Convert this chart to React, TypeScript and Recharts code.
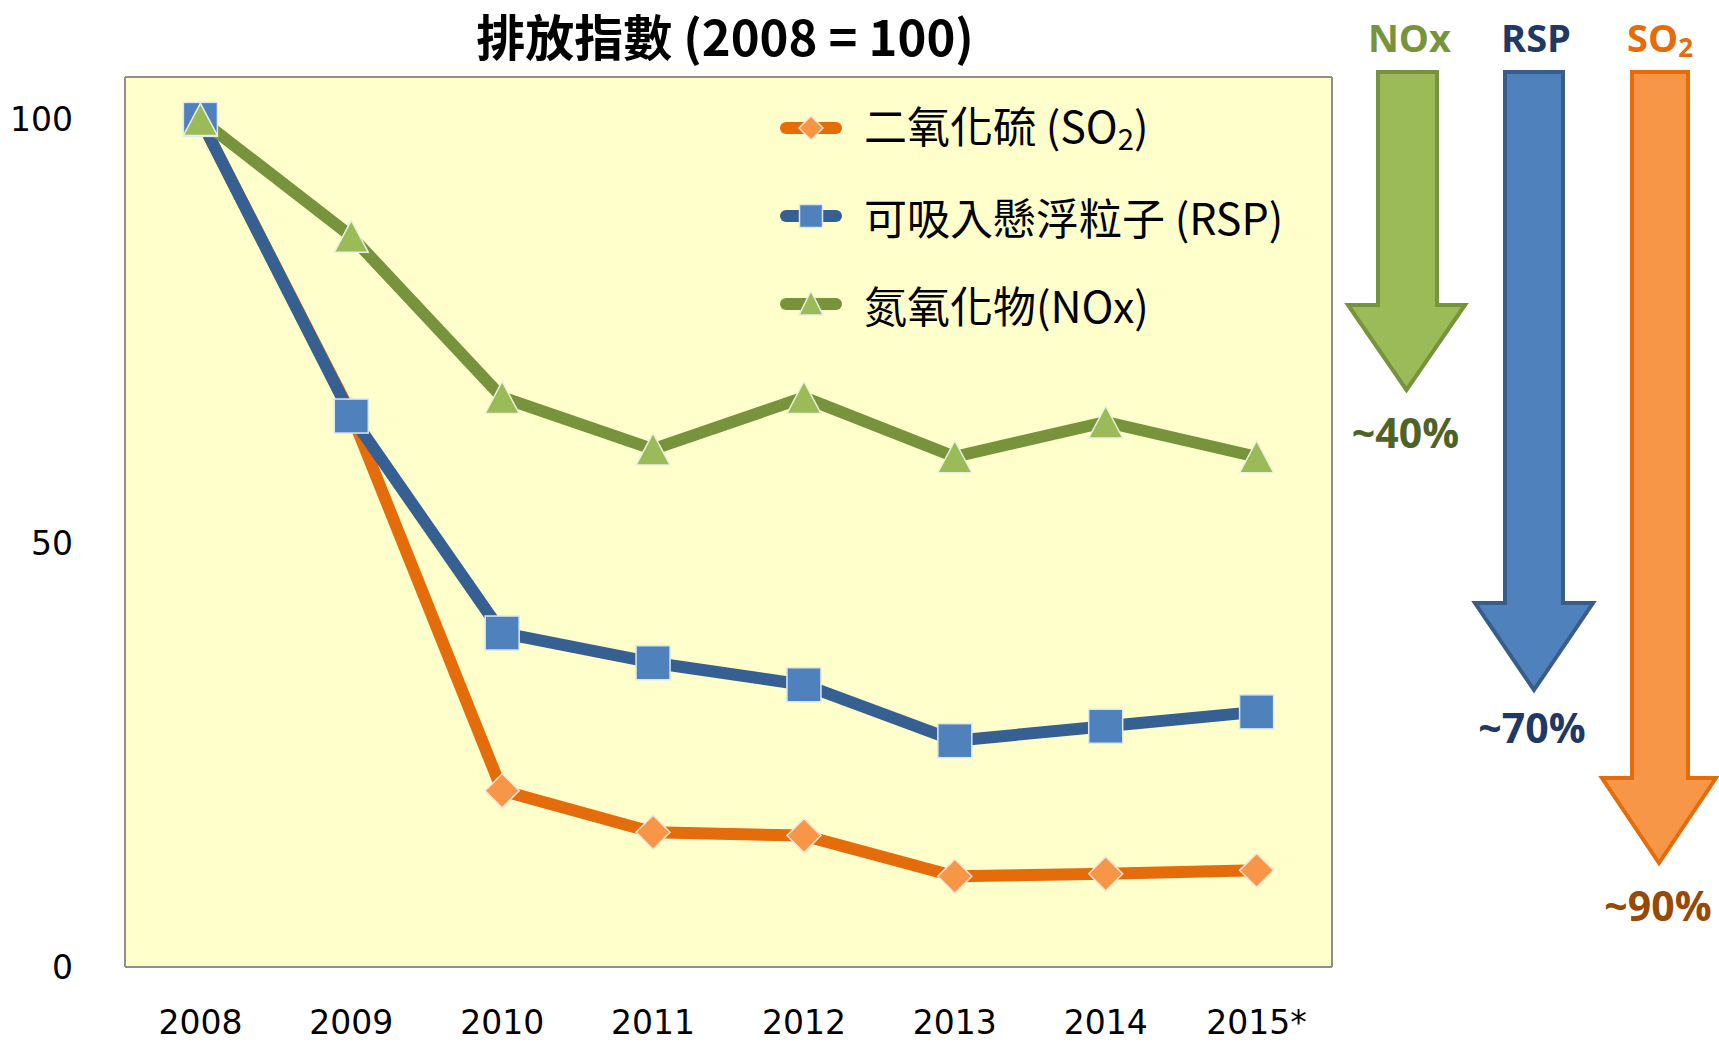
import React from 'react';
import { LineChart, Line, XAxis, YAxis, CartesianGrid, Legend } from 'recharts';

const years = ['2008', '2009', '2010', '2011', '2012', '2013', '2014', '2015*'];
const so2Values = [100, 65.2, 20.8, 15.9, 15.5, 10.7, 11.0, 11.4];
const rspValues = [100, 65.0, 39.4, 35.9, 33.3, 26.7, 28.4, 30.1];
const noxValues = [100, 86.2, 67.2, 61.1, 67.2, 60.2, 64.3, 60.2];
const yTicks = [0, 50, 100];

const seriesNames = {
  so2: '二氧化硫',
  rsp: '可吸入懸浮粒子',
  nox: '氮氧化物',
};

const data = years.map((year, i) => ({
  year,
  so2: so2Values[i],
  rsp: rspValues[i],
  nox: noxValues[i],
}));

const COLORS = {
  so2Line: '#E46C0A',
  so2Fill: '#F79646',
  rspLine: '#376092',
  rspFill: '#4F81BD',
  noxLine: '#77933C',
  noxFill: '#9BBB59',
};

const BORDER = '#8f8f8f';
const CJK = '"Noto Sans CJK TC", "Noto Sans", sans-serif';
const LAT = '"DejaVu Sans", sans-serif';

const Diamond = ({ cx, cy, r = 17, fill }: any) => {
  if (cx == null || cy == null) return null;
  const w = r * 1.0;
  return (
    <path
      d={`M${cx},${cy - r} L${cx + w},${cy} L${cx},${cy + r} L${cx - w},${cy} Z`}
      fill={fill}
      stroke="#FCE4D0"
      strokeWidth={1.5}
    />
  );
};

const Square = ({ cx, cy, s = 34, fill }: any) => {
  if (cx == null || cy == null) return null;
  return (
    <rect x={cx - s / 2} y={cy - s / 2} width={s} height={s} fill={fill} stroke="#DCE6F2" strokeWidth={1.5} />
  );
};

const Triangle = ({ cx, cy, w = 34, h = 32, fill }: any) => {
  if (cx == null || cy == null) return null;
  return (
    <path
      d={`M${cx},${cy - h / 2} L${cx + w / 2},${cy + h / 2} L${cx - w / 2},${cy + h / 2} Z`}
      fill={fill}
      stroke="#EBF1DE"
      strokeWidth={1.5}
    />
  );
};

const LegendIcon = ({ kind }: { kind: string }) => {
  const line = kind === 'so2' ? COLORS.so2Line : kind === 'rsp' ? COLORS.rspLine : COLORS.noxLine;
  const fill = kind === 'so2' ? COLORS.so2Fill : kind === 'rsp' ? COLORS.rspFill : COLORS.noxFill;
  return (
    <svg width={62} height={40} style={{ display: 'block' }}>
      <line x1={6} y1={20} x2={56} y2={20} stroke={line} strokeWidth={12} strokeLinecap="round" />
      {kind === 'so2' && <Diamond cx={31} cy={20} r={12} fill={fill} />}
      {kind === 'rsp' && <Square cx={31} cy={20} s={23} fill={fill} />}
      {kind === 'nox' && <Triangle cx={31} cy={19} w={24} h={24} fill={fill} />}
    </svg>
  );
};

const renderLegend = () => {
  const rows = [
    { kind: 'so2', name: seriesNames.so2, abbr: <>(SO<sub style={{ fontSize: '0.68em', verticalAlign: '-0.25em' }}>2</sub>)</> },
    { kind: 'rsp', name: seriesNames.rsp, abbr: <>(RSP)</> },
    { kind: 'nox', name: seriesNames.nox, abbr: <>(NOx)</> },
  ];
  return (
    <div>
      {rows.map((r) => (
        <div key={r.kind} style={{ display: 'flex', alignItems: 'center', height: 88 }}>
          <LegendIcon kind={r.kind} />
          <span
            style={{
              marginLeft: 22,
              fontFamily: CJK,
              fontSize: 43,
              color: '#000',
              whiteSpace: 'nowrap',
              lineHeight: 1,
            }}
          >
            {r.name}
            {r.kind === 'nox' ? '' : ' '}
            {r.abbr}
          </span>
        </div>
      ))}
    </div>
  );
};

const arrows = [
  { key: 'NOx', sub: '', label: '~40%', x1: 1378, x2: 1437, hx1: 1348, hx2: 1465, hy: 305, tip: 390, fill: '#9BBB59', stroke: '#77933C', title: '#77933C', labelColor: '#4F6228', labelY: 432 },
  { key: 'RSP', sub: '', label: '~70%', x1: 1505, x2: 1563, hx1: 1475, hx2: 1593, hy: 603, tip: 690, fill: '#4F81BD', stroke: '#385D8A', title: '#1F3864', labelColor: '#1F3864', labelY: 727 },
  { key: 'SO', sub: '2', label: '~90%', x1: 1632, x2: 1688, hx1: 1602, hx2: 1716, hy: 778, tip: 863, fill: '#F79646', stroke: '#E46C0A', title: '#E46C0A', labelColor: '#984807', labelY: 905 },
];

const Overlay = () => (
  <svg
    width={1719}
    height={1044}
    style={{ position: 'absolute', left: 0, top: 0, pointerEvents: 'none' }}
  >
    <text
      x={725}
      y={34}
      textAnchor="middle"
      dominantBaseline="central"
      fontFamily={CJK}
      fontWeight={700}
      fontSize={49}
      fill="#000"
    >
      排放指數 (2008 = 100)
    </text>
    {arrows.map((a) => {
      const cx = (a.x1 + a.x2) / 2;
      const top = 72;
      const d = `M${a.x1},${top} L${a.x2},${top} L${a.x2},${a.hy} L${a.hx2},${a.hy} L${(a.hx1 + a.hx2) / 2},${a.tip} L${a.hx1},${a.hy} L${a.x1},${a.hy} Z`;
      return (
        <g key={a.key}>
          <path d={d} fill={a.fill} stroke={a.stroke} strokeWidth={4} strokeLinejoin="miter" />
          <text
            x={cx + (a.sub ? 0 : 2)}
            y={37}
            textAnchor="middle"
            dominantBaseline="central"
            fontFamily='"Open Sans", sans-serif'
            fontWeight={700}
            fontSize={38}
            fill={a.title}
          >
            {a.key}
            {a.sub && (
              <tspan fontSize={26} dy={10}>
                {a.sub}
              </tspan>
            )}
          </text>
          <text
            x={cx - 2}
            y={a.labelY}
            textAnchor="middle"
            dominantBaseline="central"
            fontFamily='"Open Sans", sans-serif'
            fontWeight={700}
            fontSize={41}
            fill={a.labelColor}
          >
            {a.label}
          </text>
        </g>
      );
    })}
  </svg>
);

export default function App() {
  return (
    <div style={{ position: 'absolute', left: 0, top: 0, width: 1719, height: 1044, background: '#fff' }}>
      <LineChart
        width={1719}
        height={1044}
        data={data}
        margin={{ top: 77, right: 387, bottom: 0, left: 0 }}
      >
        <CartesianGrid
          fill="#FFFFCC"
          fillOpacity={1}
          stroke={BORDER}
          strokeWidth={2}
          horizontalCoordinatesGenerator={({ offset }: any) => [offset.top, offset.top + offset.height]}
          verticalCoordinatesGenerator={({ offset }: any) => [offset.left, offset.left + offset.width]}
        />
        <XAxis
          dataKey="year"
          height={77}
          interval={0}
          padding={{ left: 75.4, right: 75.4 }}
          tickLine={false}
          tickSize={0}
          tickMargin={44}
          axisLine={{ stroke: BORDER, strokeWidth: 2 }}
          tick={{ fill: '#000', fontSize: 33, fontFamily: LAT }}
        />
        <YAxis
          domain={[0, 105]}
          ticks={yTicks}
          width={125}
          tickLine={false}
          tickSize={0}
          tickMargin={52}
          axisLine={{ stroke: BORDER, strokeWidth: 2 }}
          tick={{ fill: '#000', fontSize: 33, fontFamily: LAT }}
        />
        <Legend
          layout="vertical"
          align="center"
          verticalAlign="middle"
          content={renderLegend}
          wrapperStyle={{ left: 780, top: 84, width: 540 }}
        />
        <Line
          dataKey="so2"
          name={seriesNames.so2}
          stroke={COLORS.so2Line}
          strokeWidth={12}
          strokeLinejoin="round"
          isAnimationActive={false}
          activeDot={false}
          dot={(p: any) => <Diamond key={`so2-${p.index}`} cx={p.cx} cy={p.cy} fill={COLORS.so2Fill} />}
        />
        <Line
          dataKey="rsp"
          name={seriesNames.rsp}
          stroke={COLORS.rspLine}
          strokeWidth={12}
          strokeLinejoin="round"
          isAnimationActive={false}
          activeDot={false}
          dot={(p: any) => <Square key={`rsp-${p.index}`} cx={p.cx} cy={p.cy} fill={COLORS.rspFill} />}
        />
        <Line
          dataKey="nox"
          name={seriesNames.nox}
          stroke={COLORS.noxLine}
          strokeWidth={12}
          strokeLinejoin="round"
          isAnimationActive={false}
          activeDot={false}
          dot={(p: any) => <Triangle key={`nox-${p.index}`} cx={p.cx} cy={p.cy} fill={COLORS.noxFill} />}
        />
      </LineChart>
      <Overlay />
    </div>
  );
}
